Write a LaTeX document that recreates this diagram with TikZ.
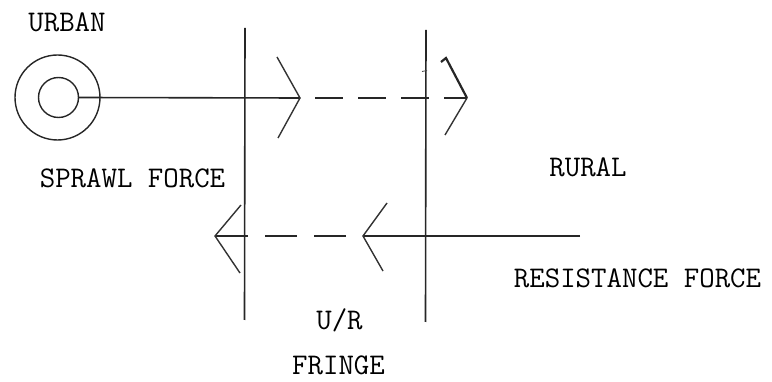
\documentclass[tikz,border=0pt]{standalone}
\begin{document}
\begin{tikzpicture}[x=1pt,y=-1pt,
  lbl/.style={font=\fontsize{30}{36}\selectfont\ttfamily, inner sep=0pt, anchor=base},
  main/.style={line width=1.6pt, black!85},
  arm/.style={line width=1.4pt, black!80},
  ring/.style={circle, draw, line width=1.4pt, black!85, inner sep=0pt}]
\useasboundingbox (0,0) rectangle (772,382);
% circles
\node[ring, minimum size=85pt] (outer) at (57.5,97.5) {};
\node[ring, minimum size=40pt] (inner) at (58.5,97.5) {};
% coordinates
\coordinate (t1) at (300,98);
\coordinate (t1u) at (277,57);
\coordinate (t1d) at (278,138);
\coordinate (t2) at (467,98);
\coordinate (t2u) at (446,58);
\coordinate (t2k) at (441,62);
\coordinate (t2d) at (445,135);
\coordinate (b1) at (215,236);
\coordinate (b1u) at (241,205);
\coordinate (b1d) at (240,273);
\coordinate (b2) at (363,236);
\coordinate (b2u) at (387,203);
\coordinate (b2d) at (383,271);
\coordinate (bend) at (580,236);
\coordinate (v1t) at (245,28);
\coordinate (v1b) at (244.5,320);
\coordinate (v2t) at (426,30);
\coordinate (v2b) at (425.5,322);
\coordinate (tk1) at (422,71.5);
\coordinate (tk2) at (427,70.5);
% vertical boundaries
\draw[main] (v1t) -- (v1b);
\draw[main] (v2t) -- (v2b);
\draw[line width=0.8pt, black!70] (tk1) -- (tk2);
% sprawl force
\draw[main] (inner.east) -- (t1);
\draw[arm] (t1u) -- (t1) -- (t1d);
\draw[main, dash pattern=on 28pt off 15pt, dash phase=28pt] (t1) -- (t2);
\draw[arm] (t2d) -- (t2);
\draw[line width=2.2pt, black!85] (t2) -- (t2u) -- (t2k);
% resistance force
\draw[main] (bend) -- (b2);
\draw[arm] (b2u) -- (b2) -- (b2d);
\draw[main, dash pattern=on 32pt off 17pt, dash phase=32pt] (b2) -- (b1);
\draw[arm] (b1u) -- (b1) -- (b1d);
% labels
\node[lbl] (urban) at (67,32) {URBAN};
\node[lbl] (sprawl) at (132.5,188) {SPRAWL FORCE};
\node[lbl] (rural) at (588,177) {RURAL};
\node[lbl] (resist) at (637.5,288) {RESISTANCE FORCE};
\node[lbl] (ur) at (339.5,330) {U/R};
\node[lbl] (fringe) at (338.5,375) {FRINGE};
\end{tikzpicture}
\end{document}
